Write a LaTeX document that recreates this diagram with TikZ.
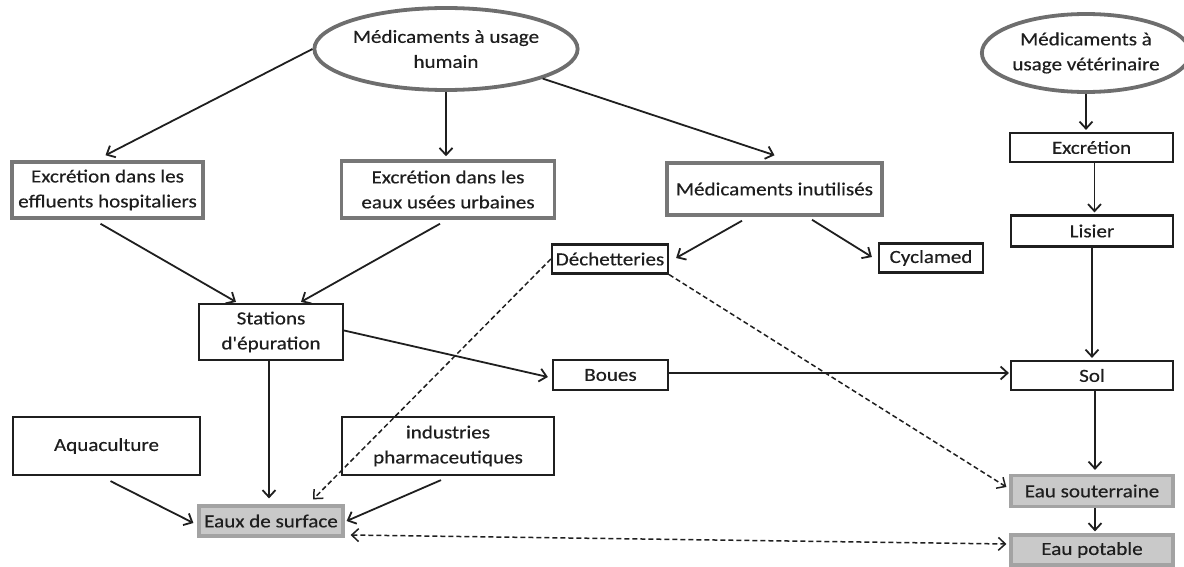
\documentclass[tikz,border=0pt]{standalone}
\usepackage{fontspec}
\setmainfont{Carlito}[FakeStretch=1.14, FakeBold=0.4, Ligatures=TeXOff]
\usetikzlibrary{arrows.meta,shapes.geometric}
\definecolor{txt}{HTML}{1E1E1E}
\definecolor{gfill}{HTML}{C9C9C9}
\definecolor{gline}{HTML}{A3A3A3}
\definecolor{oline}{HTML}{6E6E6E}
\definecolor{bline}{HTML}{777777}
\begin{document}
\begin{tikzpicture}[x=1pt,y=-1pt,
  font=\fontsize{18.5}{25}\selectfont, text=txt,
  base/.style={align=center, inner sep=0pt, fill=white},
  bbox/.style={base, draw=black!88, line width=2.2pt},
  gbox/.style={base, draw=bline, line width=3.5pt},
  wbox/.style={base, draw=gline, fill=gfill, line width=3.2pt},
  oval/.style={base, ellipse, draw=oline, line width=3.8pt},
  arr/.style={-{Straight Barb[length=7pt,width=13pt]}, line width=1.8pt, draw=black!88},
  darr/.style={arr, line width=1.5pt, dash pattern=on 5pt off 3pt},
]
\useasboundingbox (0,0) rectangle (1184,567);

\node[oval, minimum width=247pt, minimum height=82pt] (hum) at (446,49) {Médicaments à usage\\humain};
\node[oval, minimum width=167pt, minimum height=78pt] (vet) at (1086,53) {Médicaments à\\usage vétérinaire};

\node[gbox, minimum width=191pt, minimum height=56pt] (effl) at (107.5,190) {Excrétion dans les\\effluents hospitaliers};
\node[gbox, minimum width=213pt, minimum height=57pt] (urb) at (448,189.5) {Excrétion dans les\\eaux usées urbaines};
\node[gbox, minimum width=215pt, minimum height=52pt] (inut) at (774.5,189) {Médicaments inutilisés};

\node[bbox, minimum width=163pt, minimum height=29pt] (excr) at (1091.5,147.5) {Excrétion};
\node[bbox, minimum width=162pt, minimum height=31pt] (lis) at (1092,231) {Lisier};
\node[bbox, minimum width=116pt, minimum height=29pt] (dech) at (610,259) {Déchetteries};
\node[bbox, minimum width=104pt, minimum height=29pt] (cycl) at (931,258) {Cyclamed};
\node[bbox, minimum width=144pt, minimum height=56pt] (stat) at (271,332) {Stations\\d'épuration};
\node[bbox, minimum width=115pt, minimum height=30pt] (boues) at (610.5,375) {Boues};
\node[bbox, minimum width=162pt, minimum height=29pt] (sol) at (1092,375.5) {Sol};
\node[bbox, minimum width=187pt, minimum height=58pt] (aqua) at (106.5,446) {Aquaculture};
\node[bbox, minimum width=212pt, minimum height=58pt] (indu) at (448,446) {industries\\pharmaceutiques};

\node[wbox, minimum width=144pt, minimum height=30pt] (surf) at (271,521) {Eaux de surface};
\node[wbox, minimum width=162pt, minimum height=31pt] (sout) at (1092,491) {Eau souterraine};
\node[wbox, minimum width=162pt, minimum height=30pt] (pot) at (1092,550) {Eau potable};

% solid arrows
\draw[arr] (hum.west) -- ([xshift=-2pt,yshift=5pt]effl.north);
\draw[arr] (hum.south) -- ([yshift=3pt]hum.south |- urb.north);
\draw[arr] (hum.-17.7) -- ([yshift=6pt]inut.north);
\draw[arr] (vet.south) -- ([yshift=2pt]vet.south |- excr.north);
\draw[arr] ([xshift=3pt]excr.south) -- ([xshift=3pt,yshift=2pt]excr.south |- lis.north);
\draw[arr] (lis.south) -- ([yshift=2pt]lis.south |- sol.north);
\draw[arr] ([xshift=-7pt,yshift=-4pt]effl.south) -- ([xshift=-35pt,yshift=1pt]stat.north);
\draw[arr] ([xshift=-8pt,yshift=-4pt]urb.south) -- ([xshift=30pt,yshift=1pt]stat.north);
\draw[arr] ([yshift=1.5pt]stat.east) -- ([xshift=-4pt,yshift=-2pt]boues.west);
\draw[arr] ([xshift=-2pt]stat.south) -- ([xshift=-2pt,yshift=6pt]stat.south |- surf.north);
\draw[arr] ([xshift=4pt,yshift=-5pt]aqua.south) -- ([xshift=-4pt,yshift=-2pt]surf.west);
\draw[arr] ([xshift=-7pt,yshift=-4pt]indu.south) -- ([xshift=2pt]surf.east);
\draw[arr] ([xshift=-32.5pt,yshift=-4pt]inut.south) -- ([xshift=7pt,yshift=1pt]dech.east);
\draw[arr] ([xshift=37.5pt,yshift=-3pt]inut.south) -- ([xshift=-6pt,yshift=1pt]cycl.west);
\draw[arr] ([yshift=2pt]boues.east) -- ([yshift=2pt,xshift=-1pt]boues.east -| sol.west);
\draw[arr] ([xshift=3pt]sol.south) -- ([xshift=3pt,yshift=4pt]sol.south |- sout.north);
\draw[arr] ([xshift=3pt]sout.south) -- ([xshift=3pt,yshift=2pt]sout.south |- pot.north);

% dashed arrows
\draw[darr] (dech.west) -- ([xshift=42pt,yshift=5pt]surf.north);
\draw[darr] (dech.south east) -- ([xshift=-3pt,yshift=4pt]sout.west);
\draw[darr, {Straight Barb[length=7pt,width=13pt]}-{Straight Barb[length=7pt,width=13pt]}] ([xshift=6pt,yshift=-14pt]surf.east) -- ([xshift=-3pt,yshift=6pt]pot.west);
\end{tikzpicture}
\end{document}
